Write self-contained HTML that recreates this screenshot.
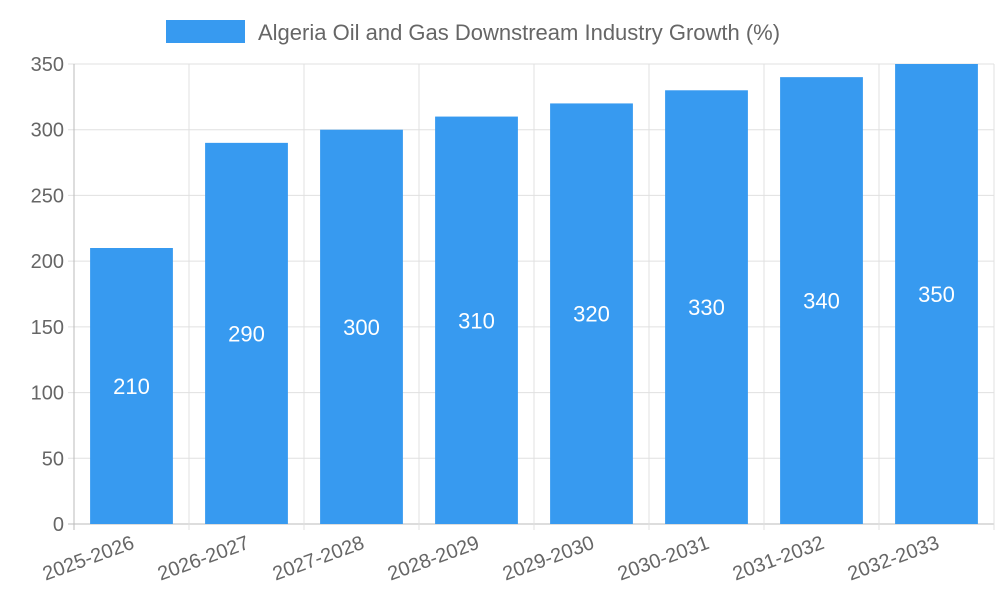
<!DOCTYPE html>
<html><head><meta charset="utf-8"><style>
body{margin:0;background:#fff;}
svg text{font-family:"Liberation Sans",sans-serif;}
</style></head><body>
<svg id="chart" width="1000" height="600" xmlns="http://www.w3.org/2000/svg">
<g>
<rect x="166" y="20" width="79" height="23" fill="#379AF0"/>
<text x="258" y="40" font-size="22" fill="#666">Algeria Oil and Gas Downstream Industry Growth (%)</text>
</g>
<g id="grid"></g><g id="bars"></g><g id="axes"></g>
</svg>
<script>
const categories=["2025-2026","2026-2027","2027-2028","2028-2029","2029-2030","2030-2031","2031-2032","2032-2033"];
const values=[210,290,300,310,320,330,340,350];
const yTicks=[0,50,100,150,200,250,300,350];
const NS="http://www.w3.org/2000/svg";
const L=74,R=994,T=64,B=524,yMax=350;
const bw=(R-L)/categories.length;
const y=v=>B-(v/yMax)*(B-T);
const x=i=>L+i*bw;
function mk(t,a,p){const e=document.createElementNS(NS,t);for(const k in a)e.setAttribute(k,a[k]);p.appendChild(e);return e;}
const grid=document.getElementById('grid'),bars=document.getElementById('bars'),axes=document.getElementById('axes');
yTicks.forEach(v=>{
 const ln=mk('line',{x1:L-6,x2:R,y1:y(v),y2:y(v),stroke:v===0?'#bbb':'#e0e0e0','stroke-width':1},grid);
 
 
 const t=mk('text',{x:L-10,y:y(v)+7,'text-anchor':'end','font-size':20,fill:'#666'},axes);
 t.textContent=v;
 
 
});
for(let i=0;i<=categories.length;i++){
 const ln=mk('line',{x1:x(i),x2:x(i),y1:T,y2:B+6,stroke:i===0?'#bbb':'#e0e0e0','stroke-width':1},grid);
 
 
}
categories.forEach((c,i)=>{
 const cx=x(i)+bw/2,w=bw*0.72;
 const r=mk('rect',{x:cx-w/2,y:y(values[i]),width:w,height:B-y(values[i]),fill:'#379AF0'},bars);
 
 
 const vt=mk('text',{x:cx,y:(y(values[i])+B)/2+8,'text-anchor':'middle','font-size':22,fill:'#fff'},bars);
 vt.textContent=values[i];
 
 
 const lt=mk('text',{x:cx+4,y:548,'text-anchor':'end','font-size':20,fill:'#666',transform:`rotate(-20 ${cx+4} 548)`},axes);
 lt.textContent=c;
 
 
});
</script>
</body></html>
